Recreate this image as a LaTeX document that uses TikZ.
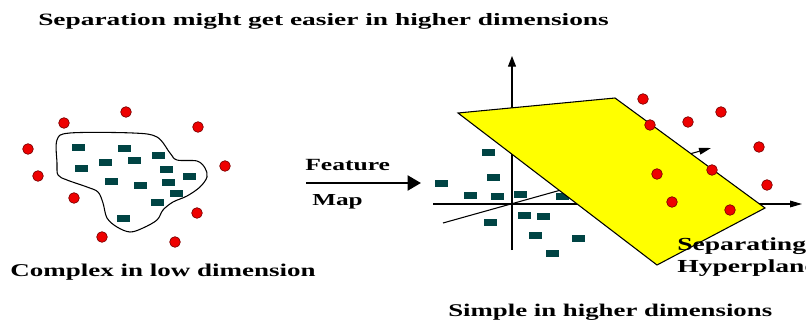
\documentclass[tikz,border=0pt]{standalone}
\usepackage{fontspec}
\setmainfont{Liberation Serif}
\usepackage{graphicx}
\usepackage{xcolor}
\usetikzlibrary{arrows.meta}

\definecolor{dotred}{HTML}{EE0000}
\definecolor{dotrim}{HTML}{7A0000}
\definecolor{boxteal}{HTML}{004444}
\definecolor{planeyellow}{HTML}{FFFF00}

\newcommand{\widetext}[3][1.5]{{\fontsize{#2}{#2}\selectfont\bfseries\scalebox{#1}[1]{#3}}}

\tikzset{
    dot/.style={circle, draw=dotrim, fill=dotred, line width=0.5pt, inner sep=0pt, minimum size=8pt},
    cube/.style={rectangle, fill=boxteal, inner sep=0pt, minimum width=9.75pt, minimum height=5.25pt},
    caption/.style={inner sep=0pt, anchor=base west}
}

\begin{document}
\begin{tikzpicture}[x=0.75pt, y=-0.75pt]
    \useasboundingbox (0,0) rectangle (806,321);

    % Titles
    \node[caption] (title) at (38,26) {\widetext[1.58]{13pt}{Separation might get easier in higher dimensions}};
    \node[caption] (low) at (10,276) {\widetext{13.5pt}{Complex in low dimension}};
    \node[caption] (high) at (448,316) {\widetext{13.4pt}{Simple in higher dimensions}};

    % Low dimension: region with boxes inside and dots outside
    \draw[line width=0.8pt, fill=white] plot[smooth cycle, tension=0.55] coordinates {
        (57,140) (70,133) (133,133) (157,137) (170,153) (177,160) (197,161) (205,168)
        (207,177) (200,187) (187,196) (173,202) (163,210) (157,220) (143,228) (130,232)
        (117,227) (107,218) (103,203) (98,192) (87,187) (67,180) (58,175) (57,163)};
    \foreach \p [count=\i] in {(78,147), (124,148), (158,155), (105,162), (134,160), (81,168), (166,169),
                               (111,181), (140,185), (168,182), (189,176), (176,193), (157,202), (123,218)}
        \node[cube] (lb\i) at \p {};
    \foreach \p [count=\i] in {(126,112), (64,123), (198,127), (28,149), (225,166),
                               (38,176), (74,198), (197,213), (102,237), (175,242)}
        \node[dot] (ld\i) at \p {};

    % Feature map
    \coordinate (fs) at (306,183);
    \coordinate (fe) at (421,183);
    \draw[line width=2.2pt, -{Triangle[length=10pt, width=11pt]}] (fs) -- (fe);
    \node[caption] (feat) at (305,170) {\widetext{12.8pt}{Feature}};
    \node[caption] (map) at (312,205) {\widetext{12.6pt}{Map}};

    % Axes
    \coordinate (yb) at (512,250);
    \coordinate (yt) at (512,56);
    \coordinate (xl) at (433,204);
    \coordinate (xr) at (802,204);
    \coordinate (zl) at (443,223);
    \coordinate (zr) at (711,148);
    \draw[line width=0.8pt, -{Triangle[length=8pt, width=6pt]}] (yb) -- (yt);
    \draw[line width=0.8pt, -{Triangle[length=9pt, width=5pt]}] (xl) -- (xr);
    \draw[line width=0.8pt, -{Triangle[length=9pt, width=5pt]}] (zl) -- (zr);

    % High dimension: boxes, plane, dots
    \foreach \p [count=\i] in {(488,152), (441,183), (493,177), (470,195), (497,196), (520,194), (562,196),
                               (490,222), (524,215), (543,216), (535,235), (578,238), (552,253)}
        \node[cube] (rb\i) at \p {};
    \draw[line width=0.8pt, fill=planeyellow] (458,113) -- (615,98) -- (765,208) -- (657,265) -- cycle;
    \foreach \p [count=\i] in {(643,99), (650,125), (688,122), (721,112), (759,147),
                               (712,170), (657,174), (767,185), (672,202), (730,210)}
        \node[dot] (rd\i) at \p {};

    \node[caption] (sep) at (677,250) {\widetext{13.8pt}{Separating}};
    \node[caption] (hyp) at (677,272) {\widetext{13.8pt}{Hyperplane}};
\end{tikzpicture}
\end{document}
